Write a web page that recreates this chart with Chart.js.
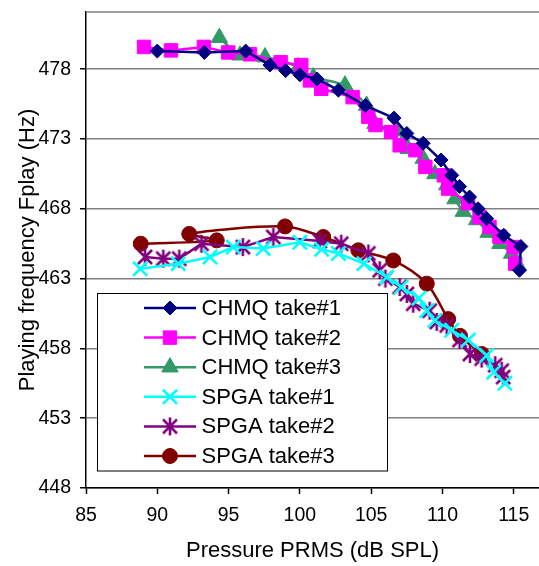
<!DOCTYPE html>
<html><head><meta charset="utf-8">
<script src="https://cdn.jsdelivr.net/npm/chart.js@4/dist/chart.umd.min.js"></script>
<style>html,body{margin:0;padding:0;background:#fff;overflow:hidden}</style>
</head><body><canvas id="c" width="539" height="566"></canvas>
<script>
const xTicks = [85, 90, 95, 100, 105, 110, 115];
const yTicks = [448, 453, 458, 463, 468, 473, 478];
const seriesNames = ['CHMQ take#1', 'CHMQ take#2', 'CHMQ take#3', 'SPGA take#1', 'SPGA take#2', 'SPGA take#3'];

const chmq1X = [90.0, 93.3, 96.2, 97.9, 99.0, 100.0, 101.2, 102.7, 104.6, 106.6, 107.5, 108.65, 109.9, 110.65, 111.2, 111.9, 112.5, 113.1, 114.3, 115.5, 115.4];
const chmq1Y = [479.3, 479.2, 479.3, 478.3, 477.9, 477.6, 477.3, 476.5, 475.4, 474.5, 473.4, 472.7, 471.5, 470.4, 469.6, 468.85, 468.0, 467.3, 466.1, 465.3, 463.6];

const chmq2X = [89.07, 90.96, 93.27, 94.98, 96.5, 98.65, 100.1, 100.7, 101.5, 103.7, 104.8, 105.3, 106.4, 107.0, 108.1, 108.8, 110.1, 110.4, 111.8, 112.6, 113.3, 114.0, 115.0, 115.1];
const chmq2Y = [479.6, 479.35, 479.6, 479.2, 479.07, 478.5, 478.3, 477.2, 476.6, 476.0, 474.6, 474.0, 473.5, 472.55, 472.2, 471.0, 470.4, 469.45, 468.4, 467.4, 466.7, 466.0, 465.26, 464.07];

const chmq3X = [94.35, 95.8, 97.55, 99.9, 100.94, 103.16, 104.68, 105.27, 106.79, 107.6, 108.65, 109.47, 110.3, 110.88, 111.46, 112.4, 113.2, 114.03, 114.85, 115.3];
const chmq3Y = [480.26, 479.0, 478.87, 478.16, 477.44, 476.85, 475.4, 474.1, 473.6, 472.3, 471.6, 470.5, 469.7, 468.7, 467.8, 467.2, 466.3, 465.5, 464.8, 463.95];

const spga1X = [88.8, 91.47, 93.7, 95.33, 97.43, 100.0, 101.53, 102.7, 104.5, 106.1, 107.1, 108.35, 108.9, 109.47, 110.65, 111.8, 113.1, 113.6, 114.38];
const spga1Y = [463.7, 464.07, 464.55, 465.26, 465.15, 465.6, 465.1, 464.8, 464.07, 463.1, 462.4, 461.6, 460.7, 460.0, 459.3, 458.6, 457.5, 456.3, 455.5];

const spga2X = [89.14, 90.42, 91.54, 93.1, 96.0, 98.14, 101.4, 102.9, 104.8, 105.6, 106.0, 107.0, 107.5, 107.95, 109.1, 109.6, 110.3, 111.2, 111.93, 112.75, 113.7, 114.15, 114.26];
const spga2Y = [464.55, 464.43, 464.43, 465.5, 465.26, 465.98, 465.7, 465.5, 464.8, 463.6, 463.0, 462.4, 461.9, 461.2, 460.7, 459.9, 459.65, 458.6, 457.6, 457.27, 456.8, 456.4, 455.95];

const spga3X = [88.84, 94.17, 92.24, 98.96, 101.64, 104.1, 106.55, 108.9, 110.4, 111.23, 112.75];
const spga3Y = [465.5, 465.74, 466.2, 466.74, 465.98, 465.03, 464.3, 462.64, 460.1, 458.9, 457.6];

const xMin = 85, xMax = 116.77, yMin = 448, yMax = 482.1;

function pts(xs, ys) { return xs.map((x, i) => ({x: x, y: ys[i]})); }

function asterisk(color) {
  const s = 20, c = document.createElement('canvas');
  c.width = s; c.height = s;
  const g = c.getContext('2d');
  g.strokeStyle = color; g.lineWidth = 2.6;
  const m = s / 2;
  g.beginPath();
  g.moveTo(m - 7, m - 7); g.lineTo(m + 7, m + 7);
  g.moveTo(m + 7, m - 7); g.lineTo(m - 7, m + 7);
  g.moveTo(m, m - 9); g.lineTo(m, m + 9);
  g.stroke();
  return c;
}

const FONT = '"Liberation Sans", Arial, sans-serif';

function mk(label, data, color, style, radius, tension, bw) {
  return {
    label: label, data: data, showLine: true,
    borderColor: color, backgroundColor: color,
    pointBackgroundColor: color, pointBorderColor: color,
    borderWidth: 2.5, pointStyle: style, pointRadius: radius, pointHoverRadius: radius,
    pointBorderWidth: bw, tension: tension
  };
}

const legendPlugin = {
  id: 'boxLegend',
  afterDraw(chart) {
    const ctx = chart.ctx;
    ctx.save();
    ctx.fillStyle = '#fff';
    ctx.fillRect(97.5, 293.5, 290, 177.5);
    ctx.strokeStyle = '#000'; ctx.lineWidth = 1;
    ctx.strokeRect(97.5, 293.5, 290, 177.5);
    chart.data.datasets.forEach((ds, i) => {
      const y = 308 + i * 29.6;
      ctx.strokeStyle = ds.borderColor; ctx.lineWidth = ds.borderWidth;
      ctx.beginPath(); ctx.moveTo(144, y); ctx.lineTo(196, y); ctx.stroke();
      ctx.fillStyle = ds.pointBackgroundColor; ctx.strokeStyle = ds.pointBorderColor;
      ctx.lineWidth = ds.pointBorderWidth;
      Chart.helpers.drawPoint(ctx, {pointStyle: ds.pointStyle, radius: ds.pointRadius, borderWidth: ds.pointBorderWidth, rotation: 0}, 170, y);
      ctx.fillStyle = '#000';
      ctx.font = '22px ' + FONT;
      ctx.textBaseline = 'middle'; ctx.textAlign = 'left';
      ctx.fillText(ds.label, 201.5, y + 1);
    });
    ctx.restore();
  }
};

const topBorder = {
  id: 'topBorder',
  beforeDatasetsDraw(chart) {
    const a = chart.chartArea, ctx = chart.ctx;
    ctx.save();
    ctx.strokeStyle = '#808080'; ctx.lineWidth = 1.5;
    ctx.beginPath(); ctx.moveTo(a.left, a.top); ctx.lineTo(a.right, a.top); ctx.stroke();
    ctx.restore();
  }
};

new Chart(document.getElementById('c'), {
  type: 'scatter',
  data: {
    datasets: [
      mk(seriesNames[0], pts(chmq1X, chmq1Y), '#000080', 'rectRot', 7, 0, 1),
      mk(seriesNames[1], pts(chmq2X, chmq2Y), '#FF00FF', 'rect', 9.5, 0, 1),
      mk(seriesNames[2], pts(chmq3X, chmq3Y), '#339966', 'triangle', 9.5, 0.25, 1),
      mk(seriesNames[3], pts(spga1X, spga1Y), '#00FFFF', 'crossRot', 10, 0, 2.6),
      mk(seriesNames[4], pts(spga2X, spga2Y), '#800080', asterisk('#800080'), 9, 0, 1),
      mk(seriesNames[5], pts(spga3X, spga3Y), '#800000', 'circle', 7.5, 0.3, 1)
    ]
  },
  options: {
    responsive: false, animation: false,
    layout: {autoPadding: false, padding: {top: 12, right: 0, bottom: 0, left: 0}},
    plugins: {legend: {display: false}, tooltip: {enabled: false}},
    scales: {
      x: {
        type: 'linear', min: xMin, max: xMax,
        afterBuildTicks(s) { s.ticks = xTicks.map(v => ({value: v})); },
        afterFit(s) { s.height = 78; s.paddingLeft = 0; s.paddingRight = 0; },
        grid: {drawOnChartArea: false, drawTicks: true, tickLength: 6, tickColor: '#000', tickWidth: 1.5},
        border: {color: '#000', width: 1.5},
        ticks: {color: '#000', font: {family: FONT, size: 19.5}, padding: 10, maxRotation: 0},
        title: {display: true, text: 'Pressure PRMS (dB SPL)', color: '#000', font: {family: FONT, size: 22}, padding: {top: 0, bottom: 2}}
      },
      y: {
        type: 'linear', min: yMin, max: yMax,
        afterBuildTicks(s) { s.ticks = yTicks.map(v => ({value: v})); },
        afterFit(s) { s.width = 86; s.paddingTop = 0; s.paddingBottom = 0; },
        grid: {color: '#808080', lineWidth: 1.5, drawTicks: true, tickLength: 6, tickColor: '#000', tickWidth: 1.5},
        border: {color: '#000', width: 1.5},
        ticks: {color: '#000', font: {family: FONT, size: 19.5}, padding: 9},
        title: {display: true, text: 'Playing frequency Fplay (Hz)', color: '#000', font: {family: FONT, size: 22}, padding: {top: 15, bottom: 0}}
      }
    }
  },
  plugins: [topBorder, legendPlugin]
});
</script></body></html>
